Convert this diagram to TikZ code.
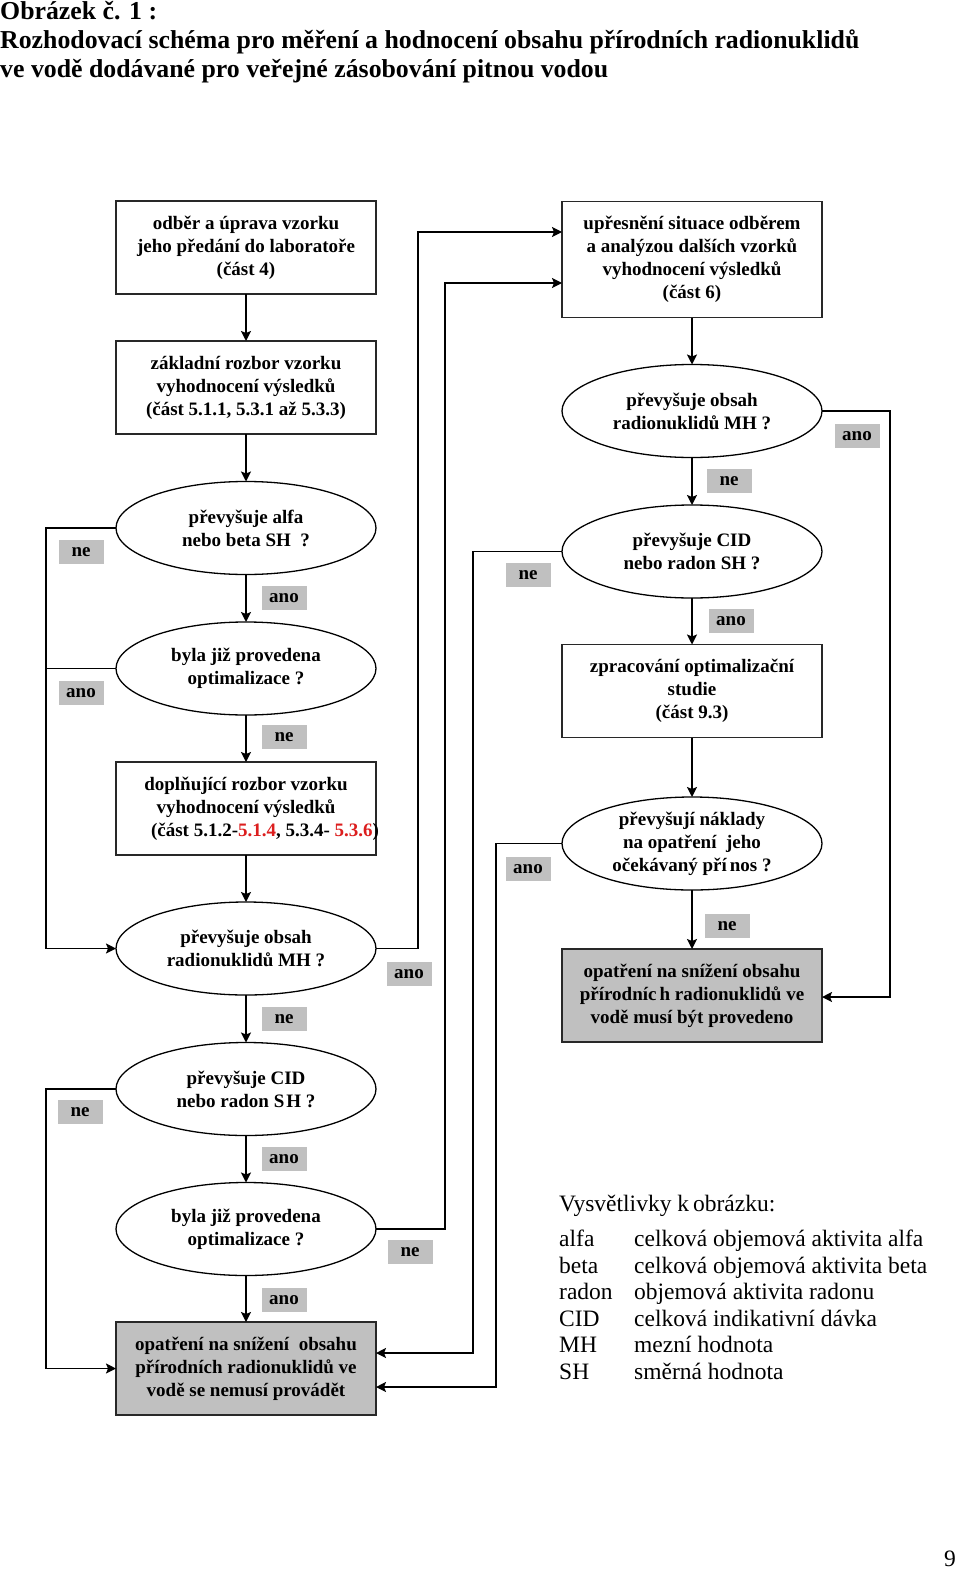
\documentclass[tikz,border=0pt]{standalone}
\usepackage{fontspec}
\setmainfont{Liberation Serif}
\usetikzlibrary{arrows.meta,shapes.geometric}
\definecolor{lg}{RGB}{192,192,192}
\definecolor{rd}{RGB}{220,30,30}
\definecolor{dk}{RGB}{40,40,40}
\begin{document}
\begin{tikzpicture}[x=1pt,y=-1pt,
  bx/.style={draw=dk, line width=1.6pt, minimum width=260pt, minimum height=93pt, inner sep=0pt, outer sep=0pt},
  gbx/.style={bx, fill=lg},
  el/.style={draw, ellipse, line width=1.3pt, minimum width=260pt, minimum height=93pt, inner sep=0pt, outer sep=0pt},
  tx/.style={align=center, font=\fontsize{19}{23}\selectfont\bfseries, inner sep=0pt},
  lab/.style={fill=lg, minimum width=45pt, minimum height=24pt, inner sep=0pt, font=\fontsize{19}{23}\selectfont\bfseries},
  arr/.style={line width=1.6pt, -{Stealth[length=10pt,width=10pt,inset=2pt]}},
  ln/.style={line width=1.6pt},
  ttl/.style={anchor=base west, inner sep=0pt, font=\fontsize{25.8}{29}\selectfont\bfseries},
  lg1/.style={anchor=base west, inner sep=0pt, font=\fontsize{23.5}{27}\selectfont}]
\useasboundingbox (0,0) rectangle (960,1570);
\fill[white] (0,0) rectangle (960,1570);

% title
\node[ttl] (t1) at (0,20) {Obrázek č. 1 :};
\node[ttl] (t2) at (0,49) {Rozhodovací schéma pro měření a hodnocení obsahu přírodních radionuklidů};
\node[ttl] (t3) at (0,78) {ve vodě dodávané pro veřejné zásobování pitnou vodou};

% left column
\node[bx] (b1) at (246,247.5) {};
\node[tx] (b1t) at (b1) {odběr a úprava vzorku\\jeho předání do laboratoře\\(část 4)};
\node[bx] (b2) at (246,387.5) {};
\node[tx] (b2t) at (b2) {základní rozbor vzorku\\vyhodnocení výsledků\\(část 5.1.1, 5.3.1 až 5.3.3)};
\node[el] (e1) at (246,528) {};
\node[tx] (e1t) at (e1) {převyšuje alfa\\nebo beta SH\ \ ?};
\node[el] (e2) at (246,668.5) {};
\node[tx] (e2t) at (e2) {byla již provedena\\optimalizace ?};
\node[bx] (b3) at (246,808.5) {};
\node[tx] (b3t) at (b3) {doplňující rozbor vzorku\\vyhodnocení výsledků\\\hspace*{38pt}(část 5.1.2-{\color{rd}5.1.4}, 5.3.4- {\color{rd}5.3.6})};
\node[el] (e3) at (246,948.5) {};
\node[tx] (e3t) at (e3) {převyšuje obsah\\radionuklidů MH ?};
\node[el] (e4) at (246,1089) {};
\node[tx] (e4t) at (e4) {převyšuje CID\\nebo radon S\kern2pt H ?};
\node[el] (e5) at (246,1229) {};
\node[tx] (e5t) at (e5) {byla již provedena\\optimalizace ?};
\node[gbx] (b4) at (246,1368.5) {};
\node[tx] (b4t) at (b4) {opatření na snížení\ \ obsahu\\přírodních radionuklidů ve\\vodě se nemusí provádět};

% right column
\node[bx, minimum height=116pt] (r1) at (692,259.5) {};
\node[tx] (r1t) at (r1) {upřesnění situace odběrem\\a analýzou dalších vzorků\\vyhodnocení výsledků\\(část 6)};
\node[el] (re1) at (692,411) {};
\node[tx] (re1t) at (re1) {převyšuje obsah\\radionuklidů MH ?};
\node[el] (re2) at (692,551.5) {};
\node[tx] (re2t) at (re2) {převyšuje CID\\nebo radon SH ?};
\node[bx] (rb2) at (692,691) {};
\node[tx] (rb2t) at (rb2) {zpracování optimalizační\\studie\\(část 9.3)};
\node[el] (re3) at (692,843.5) {};
\node[tx] (re3t) at (re3) {převyšují náklady\\na opatření\ \ jeho\\očekávaný pří\kern3pt nos ?};
\node[gbx] (rb3) at (692,995.5) {};
\node[tx] (rb3t) at (rb3) {opatření na snížení obsahu\\přírodníc\kern3pt h radionuklidů ve\\vodě musí být provedeno};

% vertical arrows
\draw[arr] (b1) -- (b2);
\draw[arr] (b2) -- (e1);
\draw[arr] (e1) -- (e2);
\draw[arr] (e2) -- (b3);
\draw[arr] (b3) -- (e3);
\draw[arr] (e3) -- (e4);
\draw[arr] (e4) -- (e5);
\draw[arr] (e5) -- (b4);
\draw[arr] (r1) -- (re1);
\draw[arr] (re1) -- (re2);
\draw[arr] (re2) -- (rb2);
\draw[arr] (rb2) -- (re3);
\draw[arr] (re3) -- (rb3);

% loops
\coordinate (v1) at (418,232);
\coordinate (v2) at (445,283);
\coordinate (v3) at (473,1353);
\coordinate (v4) at (496,1387);
\coordinate (v5) at (890,997);
\draw[arr] (e1.west) -- ++(-70,0) |- (e3.west);
\draw[ln] (e2.west) -- ++(-70,0);
\draw[arr] (e4.west) -- ++(-70,0) |- (b4.west);
\draw[arr] (e3.east) -| (v1) -- (v1 -| r1.west);
\draw[arr] (e5.east) -| (v2) -- (v2 -| r1.west);
\draw[arr] (re2.west) -| (v3) -- (v3 -| b4.east);
\draw[arr] (re3.west) -| (v4) -- (v4 -| b4.east);
\draw[arr] (re1.east) -| (v5) -- (v5 -| rb3.east);

% labels
\node[lab] (l1) at (81,552) {ne};
\node[lab] (l2) at (284,598) {ano};
\node[lab] (l3) at (81,693) {ano};
\node[lab] (l4) at (284,737) {ne};
\node[lab] (l5) at (409,974) {ano};
\node[lab] (l6) at (284,1019) {ne};
\node[lab] (l7) at (80,1112) {ne};
\node[lab] (l8) at (284,1159) {ano};
\node[lab] (l9) at (410,1252) {ne};
\node[lab] (l10) at (284,1300) {ano};
\node[lab] (l11) at (857,436) {ano};
\node[lab] (l12) at (729,481) {ne};
\node[lab] (l13) at (528,575) {ne};
\node[lab] (l14) at (731,621) {ano};
\node[lab] (l15) at (528,869) {ano};
\node[lab] (l16) at (727,926) {ne};

% legend
\node[lg1] (g0) at (559,1211) {Vysvětlivky k\kern4pt obrázku:};
\node[lg1] (g1a) at (559,1246) {alfa};
\node[lg1] (g1b) at (634,1246) {celková objemová aktivita alfa};
\node[lg1] (g2a) at (559,1273) {beta};
\node[lg1] (g2b) at (634,1273) {celková objemová aktivita beta};
\node[lg1] (g3a) at (559,1299) {radon};
\node[lg1] (g3b) at (634,1299) {objemová aktivita radonu};
\node[lg1] (g4a) at (559,1326) {CID};
\node[lg1] (g4b) at (634,1326) {celková indikativní dávka};
\node[lg1] (g5a) at (559,1352) {MH};
\node[lg1] (g5b) at (634,1352) {mezní hodnota};
\node[lg1] (g6a) at (559,1379) {SH};
\node[lg1] (g6b) at (634,1379) {směrná hodnota};

\node[lg1] (pg) at (944,1566) {9};
\end{tikzpicture}
\end{document}
